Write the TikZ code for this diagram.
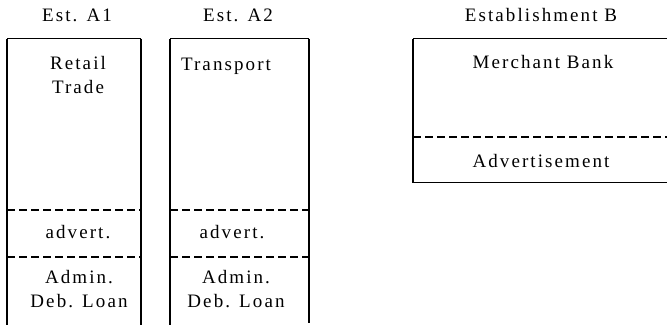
\documentclass[tikz,border=0pt]{standalone}
\usepackage{fontspec}
\setmainfont{Liberation Serif}[LetterSpace=11]
\begin{document}
\begin{tikzpicture}[x=1pt,y=-1pt,
  vline/.style={line width=1.8pt},
  hline/.style={line width=1.1pt},
  dline/.style={line width=1.1pt,dash pattern=on 8pt off 4pt},
  lbl/.style={inner sep=0pt,anchor=base,font=\fontsize{19}{24}\selectfont,align=center}]
\useasboundingbox (0,0) rectangle (667,325);
% Est. A1
\coordinate (a1tl) at (7,38.5);
\coordinate (a1tr) at (141,38.5);
\coordinate (a1bl) at (7,325);
\coordinate (a1br) at (141,325);
\draw[hline] (a1tl) -- (a1tr);
\draw[vline] (a1tl) -- (a1bl);
\draw[vline] (a1tr) -- (a1br);
\draw[dline] (7,210) -- (141,210);
\draw[dline] (7,257) -- (141,257);
% Est. A2
\coordinate (a2tl) at (170,38.5);
\coordinate (a2tr) at (309,38.5);
\coordinate (a2bl) at (170,325);
\coordinate (a2br) at (309,323);
\draw[hline] (a2tl) -- (a2tr);
\draw[vline] (a2tl) -- (a2bl);
\draw[vline] (a2tr) -- (a2br);
\draw[dline] (170,210) -- (309,210);
\draw[dline] (170,257) -- (309,257);
% Establishment B
\coordinate (btl) at (413,38.5);
\coordinate (btr) at (667,38.5);
\coordinate (bbl) at (413,182.5);
\coordinate (bbr) at (667,182.5);
\draw[hline] (btr) -- (btl);
\draw[vline] (btl) -- (bbl);
\draw[hline] (bbl) -- (bbr);
\draw[dline] (413,137) -- (667,137);
% labels
\node[lbl] (h1) at (77,21) {Est. A1};
\node[lbl] (h2) at (238,21) {Est. A2};
\node[lbl] (hb) at (541,21) {Establishment B};
\node[lbl] (retail) at (78,93) {Retail\\Trade};
\node[lbl] (transport) at (226,70) {Transport};
\node[lbl] (adv1) at (78,238) {advert.};
\node[lbl] (adv2) at (232,238) {advert.};
\node[lbl] (adm1) at (79,307.5) {Admin.\\Deb. Loan};
\node[lbl] (adm2) at (236,307.5) {Admin.\\Deb. Loan};
\node[lbl] (merchant) at (543,68.5) {Merchant Bank};
\node[lbl] (advb) at (541,167) {Advertisement};
\end{tikzpicture}
\end{document}
